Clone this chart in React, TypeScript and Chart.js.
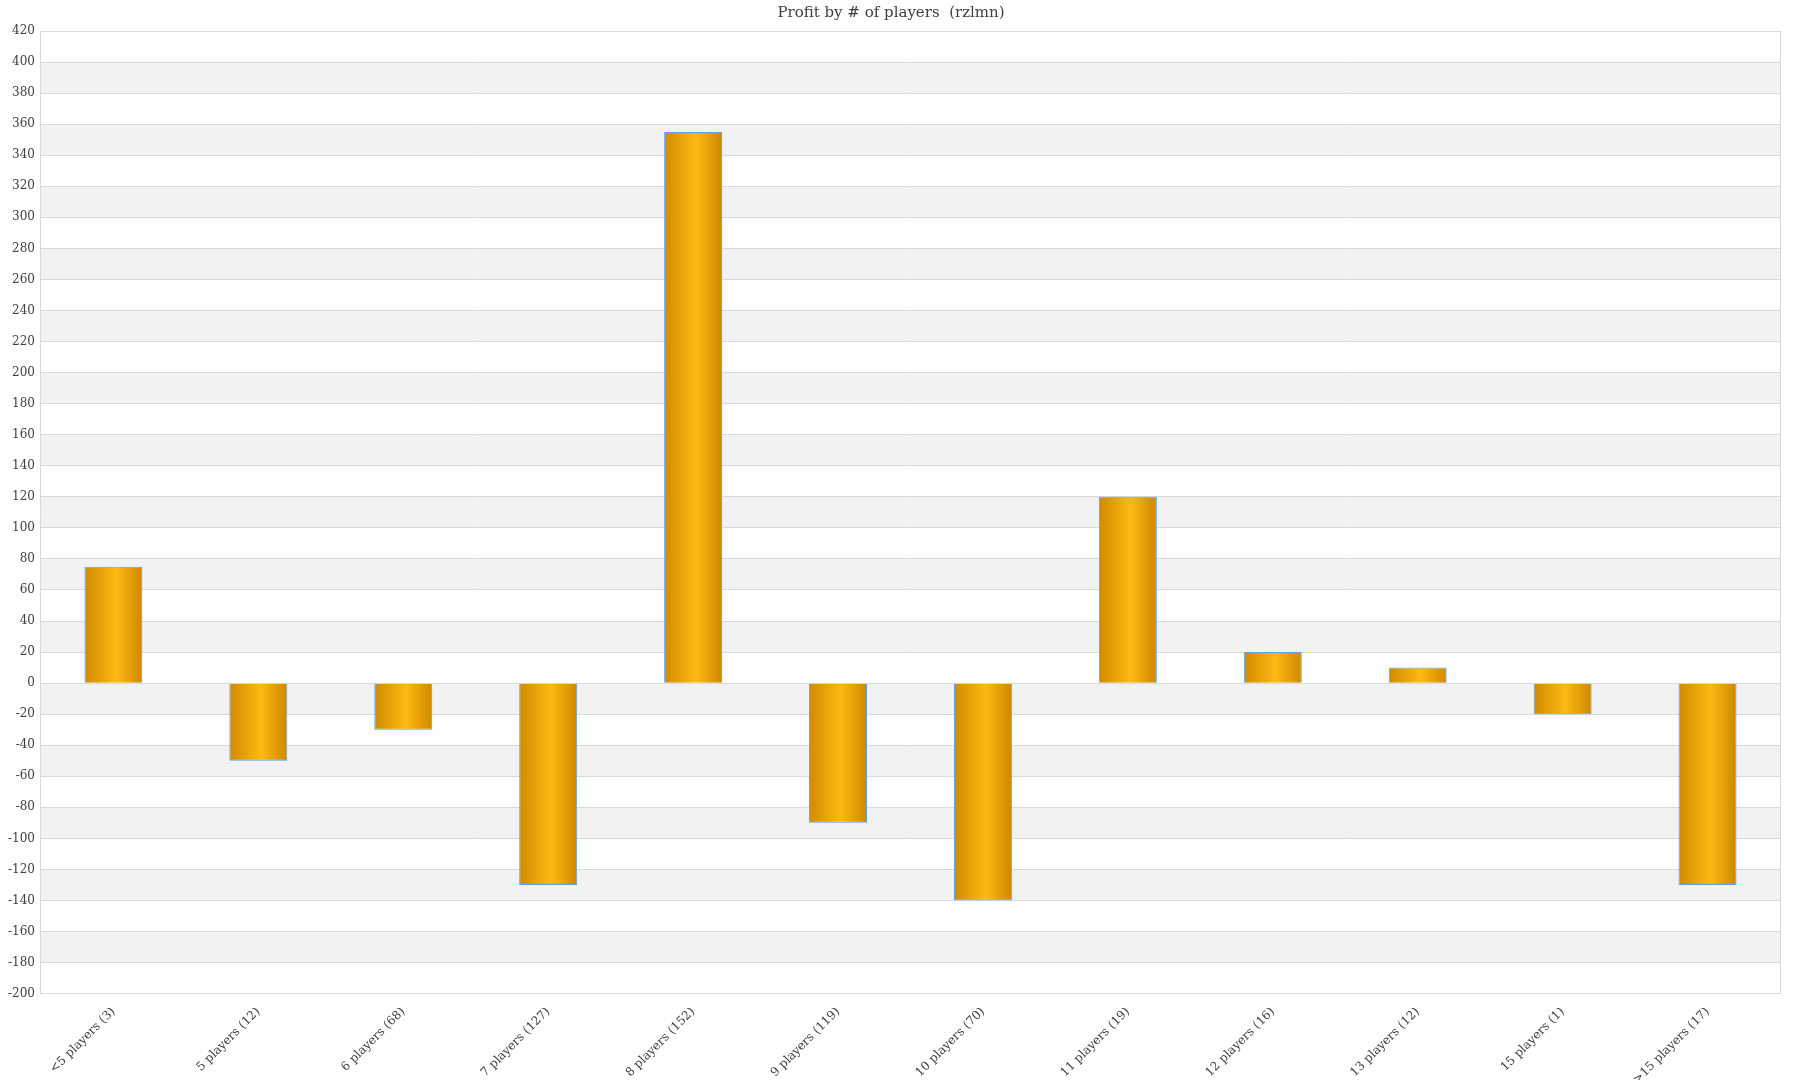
import React, { useEffect, useRef } from 'react';
import { Chart, registerables } from 'chart.js';
Chart.register(...registerables);

const categories = [
  '<5 players (3)',
  '5 players (12)',
  '6 players (68)',
  '7 players (127)',
  '8 players (152)',
  '9 players (119)',
  '10 players (70)',
  '11 players (19)',
  '12 players (16)',
  '13 players (12)',
  '15 players (1)',
  '>15 players (17)',
];
const profit = [75, -50, -30, -130, 355, -90, -140, 120, 20, 10, -20, -130];
const yMin = -200;
const yMax = 420;
const yStep = 20;

const FONT = "Georgia, 'DejaVu Serif', serif";

// alternating grey bands between the gridlines, plus the frame round the plot
const bandsPlugin = {
  id: 'bands',
  beforeDraw(chart: Chart) {
    const { ctx, chartArea } = chart;
    const y = chart.scales.y;
    ctx.save();
    ctx.fillStyle = '#f2f2f2';
    for (let v = yMin; v < yMax; v += yStep) {
      // grey when the band's lower value is 20 mod 40
      if (((v % 40) + 40) % 40 === 20) {
        const top = y.getPixelForValue(v + yStep);
        const bottom = y.getPixelForValue(v);
        ctx.fillRect(chartArea.left, top, chartArea.right - chartArea.left, bottom - top);
      }
    }
    ctx.restore();
  },
  afterDraw(chart: Chart) {
    const { ctx, chartArea } = chart;
    ctx.save();
    ctx.strokeStyle = '#d9d9d9';
    ctx.lineWidth = 1;
    ctx.beginPath();
    ctx.moveTo(chartArea.right + 0.5, chartArea.top);
    ctx.lineTo(chartArea.right + 0.5, chartArea.bottom);
    ctx.stroke();
    ctx.restore();
  },
};

const App: React.FC = () => {
  const chartRef = useRef<HTMLCanvasElement>(null);
  const chartInstance = useRef<Chart | null>(null);

  useEffect(() => {
    document.body.style.margin = '0';
    if (chartRef.current) {
      const chartContext = chartRef.current.getContext('2d');
      if (chartContext) {
        if (chartInstance.current) {
          chartInstance.current.destroy();
        }

        chartInstance.current = new Chart(chartContext, {
          type: 'bar',
          data: {
            labels: categories,
            datasets: [
              {
                label: 'Profit',
                data: profit,
                backgroundColor: (context: any) => {
                  const chart = context.chart as Chart;
                  const x = chart.scales.x;
                  const area = chart.chartArea;
                  if (!x || !area) return '#f5ad0a';
                  const cx = x.getPixelForValue(context.dataIndex);
                  const half = ((area.right - area.left) / categories.length) * 0.4 / 2;
                  const g = chart.ctx.createLinearGradient(cx - half, 0, cx + half, 0);
                  g.addColorStop(0, '#d18a00');
                  g.addColorStop(0.55, '#fdb912');
                  g.addColorStop(1, '#cf8700');
                  return g;
                },
                borderColor: '#55a2f2',
                borderWidth: 1,
                barPercentage: 0.5,
                categoryPercentage: 0.8,
              },
            ],
          },
          options: {
            animation: false,
            responsive: false,
            maintainAspectRatio: false,
            layout: { padding: { left: 2, right: 20, top: 0, bottom: 0 } },
            plugins: {
              legend: { display: false },
              tooltip: { enabled: false },
              title: {
                display: true,
                text: 'Profit by # of players  (rzlmn)',
                color: '#404040',
                font: { family: FONT, size: 15, weight: 'normal' },
                padding: { top: 4, bottom: 9 },
              },
            },
            scales: {
              x: {
                grid: { display: false },
                border: { color: '#d9d9d9' },
                ticks: {
                  color: '#404040',
                  font: { family: FONT, size: 12 },
                  minRotation: 45,
                  maxRotation: 45,
                  autoSkip: false,
                  padding: 3,
                },
              },
              y: {
                min: yMin,
                max: yMax,
                grid: { color: '#d9d9d9', drawTicks: false },
                border: { color: '#d9d9d9' },
                ticks: {
                  stepSize: yStep,
                  color: '#404040',
                  font: { family: FONT, size: 12 },
                  padding: 6,
                },
              },
            },
          },
          plugins: [bandsPlugin],
        });
      }
    }

    return () => {
      if (chartInstance.current) {
        chartInstance.current.destroy();
        chartInstance.current = null;
      }
    };
  }, []);

  return (
    <div style={{ position: 'absolute', left: 0, top: 0, width: 1800, height: 1080, overflow: 'hidden', background: '#fff' }}>
      <canvas ref={chartRef} width={1800} height={1090} style={{ display: 'block', width: 1800, height: 1090 }}></canvas>
    </div>
  );
};

export default App;
